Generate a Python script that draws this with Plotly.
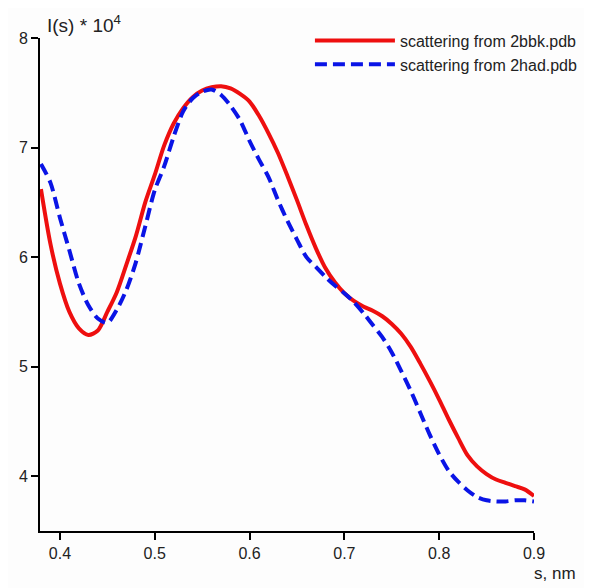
import plotly.graph_objects as go

# s values (nm^-1) shared by both curves
s = [0.38, 0.39, 0.40, 0.41, 0.42, 0.43, 0.44, 0.45, 0.46, 0.47, 0.48, 0.49,
     0.50, 0.51, 0.52, 0.53, 0.54, 0.55, 0.56, 0.57, 0.58, 0.59, 0.60, 0.61,
     0.62, 0.63, 0.64, 0.65, 0.66, 0.67, 0.68, 0.69, 0.70, 0.71, 0.72, 0.73,
     0.74, 0.75, 0.76, 0.77, 0.78, 0.79, 0.80, 0.81, 0.82, 0.83, 0.84, 0.85,
     0.86, 0.87, 0.88, 0.89, 0.90]

# I(s) * 1e4
i_2bbk = [6.62, 6.12, 5.76, 5.50, 5.35, 5.29, 5.33, 5.50, 5.68, 5.93, 6.19, 6.50,
          6.75, 7.02, 7.22, 7.36, 7.46, 7.52, 7.55, 7.56, 7.54, 7.49, 7.42, 7.29,
          7.13, 6.95, 6.74, 6.52, 6.29, 6.08, 5.90, 5.77, 5.67, 5.60, 5.55, 5.51,
          5.46, 5.39, 5.30, 5.18, 5.03, 4.87, 4.70, 4.52, 4.35, 4.19, 4.09, 4.02,
          3.97, 3.94, 3.91, 3.88, 3.82]

i_2had = [6.85, 6.68, 6.36, 6.06, 5.76, 5.56, 5.44, 5.40, 5.52, 5.70, 5.95, 6.28,
          6.61, 6.83, 7.10, 7.33, 7.45, 7.51, 7.53, 7.48, 7.38, 7.25, 7.06, 6.89,
          6.73, 6.52, 6.33, 6.16, 6.00, 5.91, 5.82, 5.74, 5.67, 5.59, 5.49, 5.38,
          5.27, 5.13, 4.96, 4.78, 4.58, 4.38, 4.20, 4.05, 3.95, 3.87, 3.81, 3.78,
          3.77, 3.77, 3.78, 3.78, 3.77]

x_ticks = [0.4, 0.5, 0.6, 0.7, 0.8, 0.9]
y_ticks = [4, 5, 6, 7, 8]

font = "Arial, Liberation Sans, sans-serif"

fig = go.Figure()

fig.add_trace(go.Scatter(
    x=s, y=i_2bbk, mode='lines', name='scattering from 2bbk.pdb',
    line=dict(color='#ee0f0f', width=4, shape='spline', smoothing=0.8)))

fig.add_trace(go.Scatter(
    x=s, y=i_2had, mode='lines', name='scattering from 2had.pdb',
    line=dict(color='#0a14e6', width=4, dash='12px,6px',
              shape='spline', smoothing=0.8)))

axis_common = dict(
    showline=True, linecolor='black', linewidth=2,
    ticks='outside', ticklen=7, tickwidth=2, tickcolor='black',
    showgrid=False, zeroline=False,
    tickfont=dict(family=font, size=16, color='#222'))

fig.update_xaxes(range=[0.379, 0.9], tickvals=x_ticks,
                 ticktext=[f"{v:.1f}" for v in x_ticks], **axis_common)
fig.update_yaxes(range=[3.5, 8.0], tickvals=y_ticks, **axis_common)

# the page body adds 8px, so the figure is 8px smaller than the window
fig.update_layout(
    width=584, height=580,
    plot_bgcolor='#fdfdfd', paper_bgcolor='#fdfdfd',
    margin=dict(l=32, r=58, t=30, b=57, autoexpand=False),
    legend=dict(
        x=0.517, y=0.973, xref='container', yref='container',
        xanchor='left', yanchor='top',
        bgcolor='rgba(0,0,0,0)', itemwidth=80,
        font=dict(family=font, size=16, color='#222'),
        tracegroupgap=0),
    annotations=[
        dict(text="I(s) * 10<sup>4</sup>", xref='paper', yref='paper',
             x=0.0, y=1.0, xanchor='left', yanchor='bottom', xshift=5,
             showarrow=False, font=dict(family=font, size=19, color='#222')),
        dict(text="s, nm", xref='paper', yref='paper',
             x=1.0, y=0.0, xanchor='center', yanchor='top', xshift=21,
             yshift=-31, showarrow=False,
             font=dict(family=font, size=17, color='#222')),
    ],
)

fig.write_html("out.html")
